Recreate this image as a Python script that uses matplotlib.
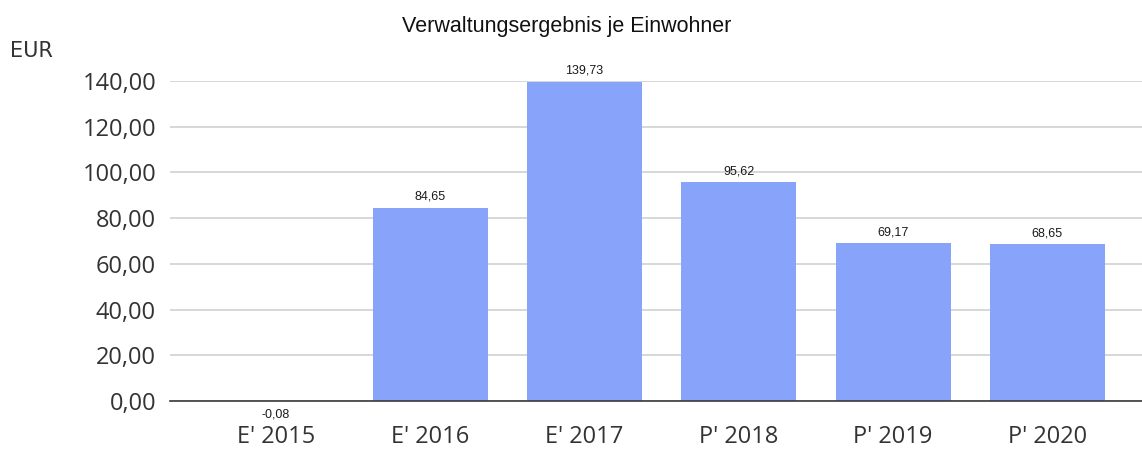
import matplotlib
matplotlib.use("Agg")
import matplotlib.pyplot as plt

# Verwaltungsergebnis je Einwohner (EUR)
years = ["E' 2015", "E' 2016", "E' 2017", "P' 2018", "P' 2019", "P' 2020"]
values = [-0.08, 84.65, 139.73, 95.62, 69.17, 68.65]
yticks = [0, 20, 40, 60, 80, 100, 120, 140]

def de(v):
    return "{:.2f}".format(v).replace(".", ",")

fig = plt.figure(figsize=(11.42, 4.5), dpi=100)
ax = fig.add_axes([170/1142, 49/450, 1 - 170/1142, 320/450])

x = list(range(len(years)))
bars = ax.bar(x, values, width=0.745, color="#87a3fa", zorder=3, clip_on=False)

for xi, v in zip(x, values):
    if v >= 0:
        ax.annotate(de(v), (xi, v), xytext=(0, 3.5), textcoords="offset points",
                    ha="center", va="bottom", fontsize=9, family="Liberation Sans",
                    color="#1a1a1a")
    else:
        ax.annotate(de(v), (xi, v), xytext=(0, -5), textcoords="offset points",
                    ha="center", va="top", fontsize=9, family="Liberation Sans",
                    color="#1a1a1a")

ax.set_xlim(-0.686, 5.613)
ax.set_ylim(0, 140)
ax.set_yticks(yticks)
ax.set_yticklabels([de(t) for t in yticks], family="Open Sans", fontsize=17, color="#333333")
ax.set_xticks(x)
ax.set_xticklabels(years, family="Open Sans", fontsize=17, color="#333333")
ax.tick_params(axis="y", length=0, pad=10)
ax.tick_params(axis="x", length=0, pad=17)

ax.grid(axis="y", color="#d4d4d4", linewidth=1.3, zorder=0)
for s in ["top", "right", "left"]:
    ax.spines[s].set_visible(False)
ax.spines["bottom"].set_color("#3a3a3a")
ax.spines["bottom"].set_linewidth(1.2)
ax.spines["bottom"].set_zorder(4)

fig.text(567/1142, 1 - 32/450, "Verwaltungsergebnis je Einwohner", ha="center",
         va="baseline", fontsize=15.5, family="Liberation Sans", color="#111111")
fig.text(10/1142, 1 - 57/450, "EUR", ha="left", va="baseline", fontsize=15,
         family="DejaVu Sans", color="#333333")

fig.savefig("out.png", dpi=100)
